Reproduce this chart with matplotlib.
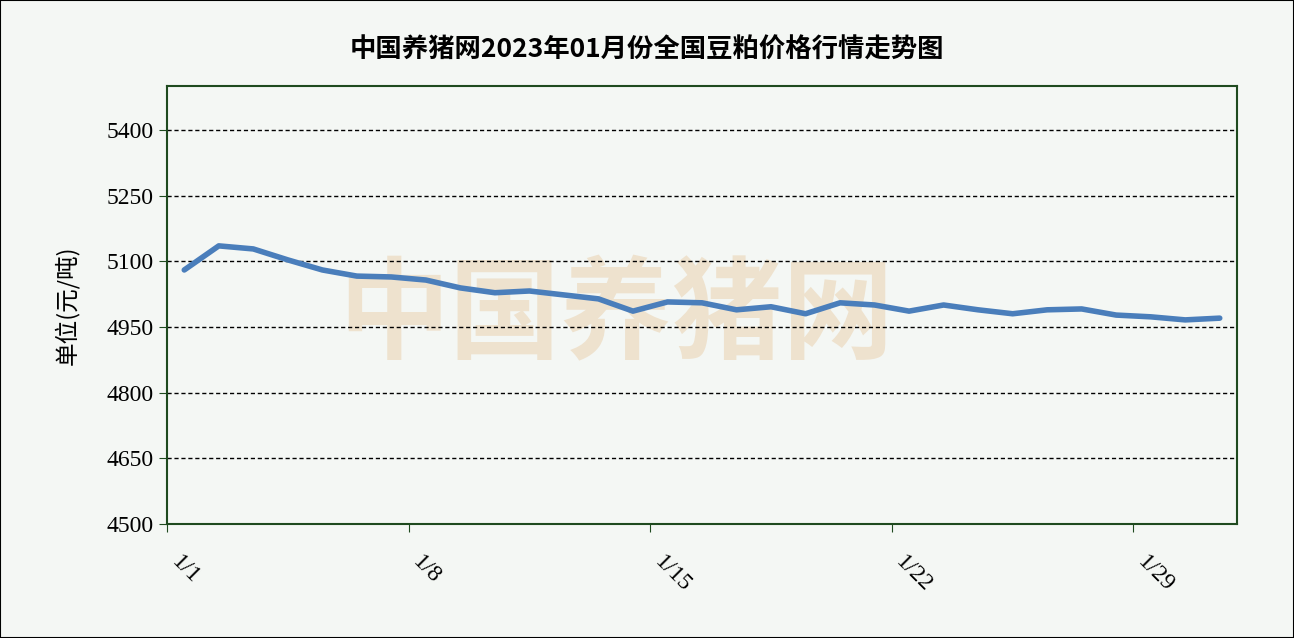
import matplotlib
matplotlib.use("Agg")
import matplotlib.pyplot as plt

plt.rcParams['font.family'] = ['Liberation Serif', 'Noto Sans CJK SC', 'DejaVu Sans']

days = ["1/%d" % d for d in range(1, 32)]
prices = [5080, 5135, 5128, 5103, 5080, 5066, 5064, 5057, 5039, 5028,
          5032, 5023, 5014, 4986, 5007, 5005, 4989, 4996, 4980, 5005,
          5000, 4986, 5000, 4989, 4980, 4989, 4991, 4977, 4973, 4966, 4970]
yticks = [4500, 4650, 4800, 4950, 5100, 5250, 5400]
tick_days = ["1/1", "1/8", "1/15", "1/22", "1/29"]

bg = "#f4f7f4"
fig = plt.figure(figsize=(12.94, 6.38), dpi=100, facecolor=bg)
fig.patches.append(plt.Rectangle((0, 0), 1, 1, transform=fig.transFigure,
                                 fill=False, edgecolor="black", lw=1.5))
ax = fig.add_axes([167/1294, 1-524/638, (1237-167)/1294, (524-86)/638])
ax.set_facecolor(bg)

x = [i + 0.5 for i in range(len(days))]
ax.plot(x, prices, color="#4a7ebb", lw=4, solid_capstyle="round", zorder=3)

ax.text(0.42, 0.47, "中国养猪网", transform=ax.transAxes, fontsize=80,
        color="#e8c9a0", alpha=0.45, ha="center", va="center",
        family=['Noto Sans CJK SC'], fontweight="bold", zorder=1)

ax.set_xlim(0, len(days))
ax.set_ylim(4500, 5500)
ax.set_yticks(yticks)
ax.set_yticklabels([str(v) for v in yticks], fontsize=17)
ax.set_xticks([days.index(d) for d in tick_days])
ax.set_xticklabels(tick_days, fontsize=17, rotation=-45, ha="left", va="top")
ax.tick_params(axis="x", length=6, direction="out", color="#1f4a1f", pad=14)
ax.tick_params(axis="y", length=6, direction="out", color="#1f4a1f")
for v in yticks[1:]:
    ax.axhline(v, color="black", ls=(0, (3, 2)), lw=1, zorder=2)
for s in ax.spines.values():
    s.set_color("#1f4a1f")
    s.set_linewidth(1.5)

ax.set_ylabel("单位(元/吨)", fontsize=17, family=['Noto Sans CJK SC'], labelpad=20)
fig.text(0.5, 1-50/638, "中国养猪网2023年01月份全国豆粕价格行情走势图", fontsize=19,
         ha="center", va="center", family=['Noto Sans CJK SC'], fontweight="bold")

fig.savefig("out.png", facecolor=bg)
